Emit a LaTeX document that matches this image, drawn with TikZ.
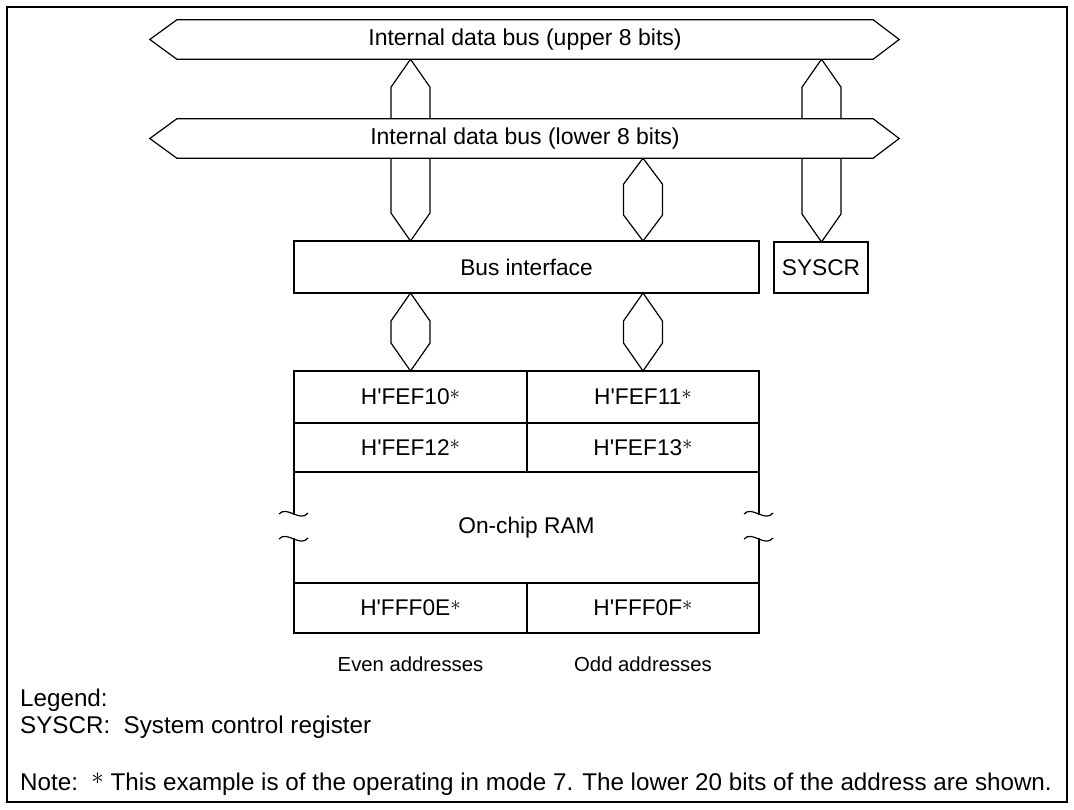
\documentclass[tikz,border=0pt]{standalone}
\usepackage{fontspec}
\setmainfont{Liberation Sans}[Ligatures=TeXOff]
\usetikzlibrary{positioning,calc,backgrounds}

\newcommand\supast{\raisebox{0.24em}{$\ast$}}

\tikzset{
  busbody/.style={fill=white,inner sep=0pt,minimum height=39pt,minimum width=696pt,
    font=\fontsize{23}{27}\selectfont},
  busline/.style={line width=1.2pt,line join=miter},
  blk/.style={draw,line width=1.2pt,inner sep=0pt,outer sep=0pt,
    font=\fontsize{22.7}{27}\selectfont},
  hexbus/.style={line width=1.2pt,to path={let \p1=(\tikztostart),\p2=(\tikztotarget) in
    -- (\x1+19.5pt,\y1-#1) -- (\x1+19.5pt,\y2+#1) -- (\x1,\y2)
    -- (\x1-19.5pt,\y2+#1) -- (\x1-19.5pt,\y1-#1) -- cycle}},
  hexbus/.default=28pt,
  edge/.style={line width=1.2pt},
  lbl/.style={anchor=base,inner sep=0pt,font=\fontsize{20.3}{24}\selectfont},
  txt/.style={anchor=base west,inner sep=0pt,font=\fontsize{24.2}{28}\selectfont},
}

\begin{document}
\begin{tikzpicture}[x=1pt,y=-1pt]
  \useasboundingbox (0,0) rectangle (1074,809);
  \draw[line width=1.3pt] (7,7) rectangle (1067,802);

  % buses
  \node[busbody] (ubus) at (525,39.5) {Internal data bus (upper 8 bits)};
  \node[busbody] (lbus) at (525,138.5) {Internal data bus (lower 8 bits)};
  \foreach \b in {ubus,lbus}{
    \draw[busline] (\b.north west) -- (\b.north east) -- ([xshift=26pt]\b.east)
      -- (\b.south east) -- (\b.south west) -- ([xshift=-27pt]\b.west) -- cycle;}

  % blocks
  \node[blk,minimum width=465pt,minimum height=52pt] (bif) at (526.5,267) {Bus interface};
  \node[blk,minimum width=94pt,minimum height=51pt] (sys) at (821,267.5) {SYSCR};

  % on-chip RAM
  \node[blk,minimum width=233pt,minimum height=52pt] (c10) at (410.5,397) {H'FEF10\supast};
  \node[blk,minimum width=232pt,minimum height=52pt,right=0pt of c10] (c11) {H'FEF11\supast};
  \node[blk,minimum width=233pt,minimum height=49pt,below=0pt of c10] (c12) {H'FEF12\supast};
  \node[blk,minimum width=232pt,minimum height=49pt,right=0pt of c12] (c13) {H'FEF13\supast};
  \node[blk,minimum width=233pt,minimum height=50pt] (c0e) at (410.5,608) {H'FFF0E\supast};
  \node[blk,minimum width=232pt,minimum height=50pt,right=0pt of c0e] (c0f) {H'FFF0F\supast};
  \node[blk,draw=none] (ram) at (526.5,528) {On-chip RAM};
  \draw[edge] (c12.south west) -- ++(0,43);
  \draw[edge] (c0e.north west) -- ++(0,-45);
  \draw[edge] (c13.south east) -- ++(0,43);
  \draw[edge] (c0f.north east) -- ++(0,-45);
  \foreach \x in {294,759}{
    \foreach \y in {514,539}{
      \draw[edge] (\x-15,\y) .. controls (\x-7,\y-9) and (\x+6,\y+9) .. (\x+14,\y-1);}}

  % bus connections
  \coordinate (xE) at (410.5,0);
  \coordinate (xO) at (643,0);
  \coordinate (xS) at (821.5,0);
  \begin{scope}[on background layer]
    \draw[hexbus] (ubus.south -| xE) to (bif.north -| xE);
    \draw[hexbus] (ubus.south -| xS) to (sys.north -| xS);
    \draw[hexbus=26pt] (lbus.south -| xO) to (bif.north -| xO);
    \draw[hexbus] (bif.south -| xE) to (c10.north -| xE);
    \draw[hexbus] (bif.south -| xO) to (c11.north -| xO);
  \end{scope}

  \node[lbl] (even) at (410.5,671) {Even addresses};
  \node[lbl] (odd) at (643,671) {Odd addresses};

  % legend
  \node[txt] (leg) at (20,706) {Legend:};
  \node[txt] (legsys) at (20,733) {SYSCR:\ \ System control register};
  \node[txt] (note) at (20,790) {Note:\ \ \supast\ This example is of the operating in mode 7. The lower 20 bits of the address are shown.};
\end{tikzpicture}
\end{document}
